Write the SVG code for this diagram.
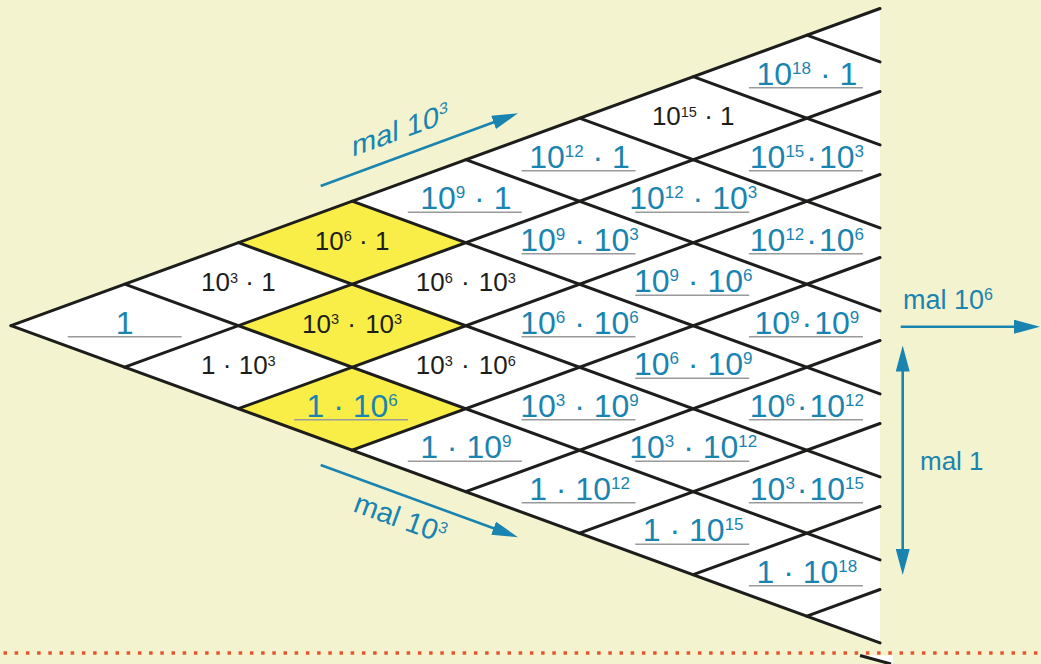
<svg xmlns="http://www.w3.org/2000/svg" width="1041" height="664" viewBox="0 0 1041 664">
<style>
.bg{fill:#f4f3cf}
.tri{fill:#fff}
.yel{fill:#f9ee48}
.ln{stroke:#1d1d1b;stroke-width:3;stroke-linecap:round;fill:none}
.ul{stroke:#9a9a9a;stroke-width:1.6}
text{font-family:"Liberation Sans",Arial,sans-serif}
.b{fill:#1a84b0;font-size:32px;text-anchor:middle}
.bs{font-size:17px}
.k{fill:#1d1d1b;font-size:26px;text-anchor:middle}
.ks{font-size:14.5px}
.a{fill:#1a84b0;font-size:29px}
.as{font-size:16px}
.arr{stroke:#1a84b0;stroke-width:2.6;fill:none}
</style>
<defs>
<marker id="ah" viewBox="0 0 26 14" refX="16" refY="7" markerWidth="26" markerHeight="14" markerUnits="userSpaceOnUse" orient="auto-start-reverse">
<path d="M0,0 L26,7 L0,14 z" fill="#1a84b0"/>
</marker>
</defs>
<rect class="bg" x="0" y="0" width="1041" height="664"/>
<polygon class="tri" points="11,325.7 880,8.5 880,642.9"/>
<g id="yellow">
<polygon class="yel" points="238.4,242.7 352.1,201.2 465.8,242.7 352.1,284.2"/>
<polygon class="yel" points="238.4,325.7 352.1,284.2 465.8,325.7 352.1,367.2"/>
<polygon class="yel" points="238.4,408.7 352.1,367.2 465.8,408.7 352.1,450.2"/>
</g>
<g id="grid" class="ln">
<line x1="11" y1="325.7" x2="880" y2="8.5"/>
<line x1="124.7" y1="367.2" x2="880" y2="91.5"/>
<line x1="238.4" y1="408.7" x2="880" y2="174.5"/>
<line x1="352.1" y1="450.2" x2="880" y2="257.5"/>
<line x1="465.8" y1="491.7" x2="880" y2="340.5"/>
<line x1="579.5" y1="533.2" x2="880" y2="423.5"/>
<line x1="693.2" y1="574.7" x2="880" y2="506.5"/>
<line x1="806.9" y1="616.2" x2="880" y2="589.5"/>
<line x1="11" y1="325.7" x2="880" y2="642.9"/>
<line x1="124.7" y1="284.2" x2="880" y2="559.9"/>
<line x1="238.4" y1="242.7" x2="880" y2="476.9"/>
<line x1="352.1" y1="201.2" x2="880" y2="393.9"/>
<line x1="465.8" y1="159.7" x2="880" y2="310.9"/>
<line x1="579.5" y1="118.2" x2="880" y2="227.9"/>
<line x1="693.2" y1="76.7" x2="880" y2="144.9"/>
<line x1="806.9" y1="35.2" x2="880" y2="61.9"/>
</g>
<g id="c1_0"><line class="ul" x1="67.7" y1="336.7" x2="181.7" y2="336.7"/><text class="b" x="124.7" y="333.7">1</text></g>
<g id="c2_m1"><text class="k" x="238.4" y="291.2">10<tspan class="ks" dy="-8.5">3</tspan><tspan dy="8.5"> · 1</tspan></text></g>
<g id="c2_p1"><text class="k" x="238.4" y="374.2">1 · 10<tspan class="ks" dy="-8.5">3</tspan></text></g>
<g id="c3_m2"><text class="k" x="352.1" y="249.7">10<tspan class="ks" dy="-8.5">6</tspan><tspan dy="8.5"> · 1</tspan></text></g>
<g id="c3_0"><text class="k" x="352.1" y="332.7">10<tspan class="ks" dy="-8.5">3</tspan><tspan dy="8.5" dx="1"> · </tspan><tspan dx="2">10</tspan><tspan class="ks" dy="-8.5">3</tspan></text></g>
<g id="c3_p2"><line class="ul" x1="294.1" y1="419.7" x2="408.1" y2="419.7"/><text class="b" x="352.1" y="416.7">1 · 10<tspan class="bs" dy="-11">6</tspan></text></g>
<g id="c4_m3"><line class="ul" x1="407.8" y1="212.2" x2="521.8" y2="212.2"/><text class="b" x="465.8" y="209.2">10<tspan class="bs" dy="-11">9</tspan><tspan dy="11"> · 1</tspan></text></g>
<g id="c4_m1"><text class="k" x="465.8" y="291.2">10<tspan class="ks" dy="-8.5">6</tspan><tspan dy="8.5" dx="1"> · </tspan><tspan dx="2">10</tspan><tspan class="ks" dy="-8.5">3</tspan></text></g>
<g id="c4_p1"><text class="k" x="465.8" y="374.2">10<tspan class="ks" dy="-8.5">3</tspan><tspan dy="8.5" dx="1"> · </tspan><tspan dx="2">10</tspan><tspan class="ks" dy="-8.5">6</tspan></text></g>
<g id="c4_p3"><line class="ul" x1="407.8" y1="461.2" x2="521.8" y2="461.2"/><text class="b" x="465.8" y="458.2">1 · 10<tspan class="bs" dy="-11">9</tspan></text></g>
<g id="c5_m4"><line class="ul" x1="521.5" y1="170.7" x2="635.5" y2="170.7"/><text class="b" x="579.5" y="167.7">10<tspan class="bs" dy="-11">12</tspan><tspan dy="11"> · 1</tspan></text></g>
<g id="c5_m2"><line class="ul" x1="521.5" y1="253.7" x2="635.5" y2="253.7"/><text class="b" x="579.5" y="250.7">10<tspan class="bs" dy="-11">9</tspan><tspan dy="11"> · 10</tspan><tspan class="bs" dy="-11">3</tspan></text></g>
<g id="c5_0"><line class="ul" x1="521.5" y1="336.7" x2="635.5" y2="336.7"/><text class="b" x="579.5" y="333.7">10<tspan class="bs" dy="-11">6</tspan><tspan dy="11"> · 10</tspan><tspan class="bs" dy="-11">6</tspan></text></g>
<g id="c5_p2"><line class="ul" x1="521.5" y1="419.7" x2="635.5" y2="419.7"/><text class="b" x="579.5" y="416.7">10<tspan class="bs" dy="-11">3</tspan><tspan dy="11"> · 10</tspan><tspan class="bs" dy="-11">9</tspan></text></g>
<g id="c5_p4"><line class="ul" x1="521.5" y1="502.7" x2="635.5" y2="502.7"/><text class="b" x="579.5" y="499.7">1 · 10<tspan class="bs" dy="-11">12</tspan></text></g>
<g id="c6_m5"><text class="k" x="693.2" y="125.2">10<tspan class="ks" dy="-8.5">15</tspan><tspan dy="8.5"> · 1</tspan></text></g>
<g id="c6_m3"><line class="ul" x1="635.2" y1="212.2" x2="749.2" y2="212.2"/><text class="b" x="693.2" y="209.2">10<tspan class="bs" dy="-11">12</tspan><tspan dy="11"> · 10</tspan><tspan class="bs" dy="-11">3</tspan></text></g>
<g id="c6_m1"><line class="ul" x1="635.2" y1="295.2" x2="749.2" y2="295.2"/><text class="b" x="693.2" y="292.2">10<tspan class="bs" dy="-11">9</tspan><tspan dy="11"> · 10</tspan><tspan class="bs" dy="-11">6</tspan></text></g>
<g id="c6_p1"><line class="ul" x1="635.2" y1="378.2" x2="749.2" y2="378.2"/><text class="b" x="693.2" y="375.2">10<tspan class="bs" dy="-11">6</tspan><tspan dy="11"> · 10</tspan><tspan class="bs" dy="-11">9</tspan></text></g>
<g id="c6_p3"><line class="ul" x1="635.2" y1="461.2" x2="749.2" y2="461.2"/><text class="b" x="693.2" y="458.2">10<tspan class="bs" dy="-11">3</tspan><tspan dy="11"> · 10</tspan><tspan class="bs" dy="-11">12</tspan></text></g>
<g id="c6_p5"><line class="ul" x1="635.2" y1="544.2" x2="749.2" y2="544.2"/><text class="b" x="693.2" y="541.2">1 · 10<tspan class="bs" dy="-11">15</tspan></text></g>
<g id="c7_m6"><line class="ul" x1="748.9" y1="87.7" x2="862.9" y2="87.7"/><text class="b" x="806.9" y="84.7">10<tspan class="bs" dy="-11">18</tspan><tspan dy="11"> · 1</tspan></text></g>
<g id="c7_m4"><line class="ul" x1="748.9" y1="170.7" x2="862.9" y2="170.7"/><text class="b" x="806.9" y="167.7">10<tspan class="bs" dy="-11">15</tspan><tspan dy="11" dx="2">·</tspan><tspan dx="2">10</tspan><tspan class="bs" dy="-11">3</tspan></text></g>
<g id="c7_m2"><line class="ul" x1="748.9" y1="253.7" x2="862.9" y2="253.7"/><text class="b" x="806.9" y="250.7">10<tspan class="bs" dy="-11">12</tspan><tspan dy="11" dx="2">·</tspan><tspan dx="2">10</tspan><tspan class="bs" dy="-11">6</tspan></text></g>
<g id="c7_0"><line class="ul" x1="748.9" y1="336.7" x2="862.9" y2="336.7"/><text class="b" x="806.9" y="333.7">10<tspan class="bs" dy="-11">9</tspan><tspan dy="11" dx="2">·</tspan><tspan dx="2">10</tspan><tspan class="bs" dy="-11">9</tspan></text></g>
<g id="c7_p2"><line class="ul" x1="748.9" y1="419.7" x2="862.9" y2="419.7"/><text class="b" x="806.9" y="416.7">10<tspan class="bs" dy="-11">6</tspan><tspan dy="11" dx="2">·</tspan><tspan dx="2">10</tspan><tspan class="bs" dy="-11">12</tspan></text></g>
<g id="c7_p4"><line class="ul" x1="748.9" y1="502.7" x2="862.9" y2="502.7"/><text class="b" x="806.9" y="499.7">10<tspan class="bs" dy="-11">3</tspan><tspan dy="11" dx="2">·</tspan><tspan dx="2">10</tspan><tspan class="bs" dy="-11">15</tspan></text></g>
<g id="c7_p6"><line class="ul" x1="748.9" y1="585.7" x2="862.9" y2="585.7"/><text class="b" x="806.9" y="582.7">1 · 10<tspan class="bs" dy="-11">18</tspan></text></g>
<g id="connectors">
<line class="arr" x1="320.7" y1="186" x2="508.6" y2="116.8" marker-end="url(#ah)"/>
<line class="arr" x1="320.7" y1="465" x2="508.6" y2="533.8" marker-end="url(#ah)"/>
<line class="arr" x1="900.7" y1="326.7" x2="1030" y2="326.7" marker-end="url(#ah)"/>
<line class="arr" x1="902.7" y1="355.5" x2="902.7" y2="565" marker-start="url(#ah)" marker-end="url(#ah)"/>
</g>
<g id="labels">
<text class="a" transform="matrix(1,-0.364,0,1,352,157)">mal 10<tspan class="as" dy="-10">3</tspan></text>
<text class="a" transform="translate(352,511) rotate(20)">mal 10<tspan class="as" dy="-10">3</tspan></text>
<text class="a" x="903" y="309" style="font-size:27px">mal 10<tspan class="as" dy="-9.5">6</tspan></text>
<text class="a" x="920" y="470" style="font-size:26px">mal 1</text>
</g>
<polygon points="860,655.5 893,655.5 893,664 890,664" fill="#fff"/>
<line x1="860" y1="655.5" x2="891" y2="664" stroke="#1d1d1b" stroke-width="3"/>
<line x1="0" y1="653" x2="1041" y2="653" stroke="#e4572e" stroke-width="3.5" stroke-dasharray="3.5 7.7" stroke-dashoffset="-3.5"/>
</svg>
